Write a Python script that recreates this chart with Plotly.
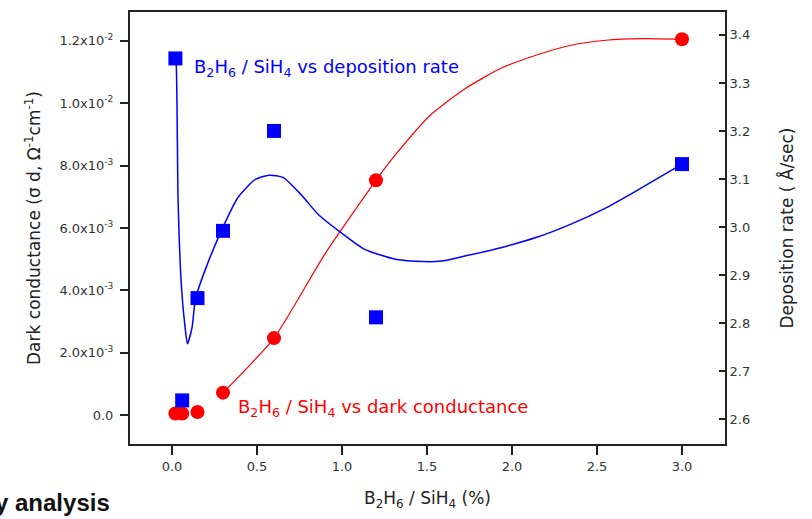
import plotly.graph_objects as go

# B2H6/SiH4 ratio (%)
ratio = [0.02, 0.06, 0.15, 0.3, 0.6, 1.2, 3.0]
# dark conductance (ohm^-1 cm^-1), left axis
dark_cond = [5e-5, 5e-5, 1.0e-4, 7.2e-4, 2.47e-3, 7.53e-3, 1.205e-2]
# deposition rate (A/sec), right axis
dep_rate = [3.351, 2.639, 2.852, 2.992, 3.200, 2.812, 3.131]

# smoothed fit curve of deposition rate
fit_rate_x = [0.019, 0.025, 0.036, 0.056, 0.077, 0.091, 0.118, 0.139, 0.201, 0.290,
              0.387, 0.490, 0.572, 0.655, 0.758, 0.861, 1.006, 1.130, 1.315, 1.481,
              1.584, 1.728, 1.935, 2.141, 2.347, 2.553, 2.759, 3.0]
fit_rate_y = [3.351, 3.337, 3.054, 2.874, 2.791, 2.757, 2.791, 2.852, 2.916, 2.992,
              3.061, 3.099, 3.108, 3.103, 3.068, 3.026, 2.985, 2.954, 2.933, 2.928,
              2.929, 2.940, 2.957, 2.978, 3.006, 3.040, 3.081, 3.131]

# smoothed fit curve of dark conductance
fit_cond_x = [0.3, 0.6, 0.9, 1.2, 1.315, 1.522, 1.728, 1.935, 2.141, 2.347, 2.553, 2.759, 3.0]
fit_cond_y = [7.2e-4, 2.47e-3, 5.17e-3, 7.53e-3, 8.35e-3, 9.63e-3, 1.048e-2, 1.112e-2,
              1.154e-2, 1.186e-2, 1.202e-2, 1.207e-2, 1.205e-2]

left_ticks = [0, 2e-3, 4e-3, 6e-3, 8e-3, 1.0e-2, 1.2e-2]
left_labels = ["0.0", "2.0x10<sup>-3</sup>", "4.0x10<sup>-3</sup>", "6.0x10<sup>-3</sup>",
               "8.0x10<sup>-3</sup>", "1.0x10<sup>-2</sup>", "1.2x10<sup>-2</sup>"]
right_ticks = [2.6, 2.7, 2.8, 2.9, 3.0, 3.1, 3.2, 3.3, 3.4]
x_ticks = [0.0, 0.5, 1.0, 1.5, 2.0, 2.5, 3.0]

BLUE = "#0000ff"
RED = "#ff0000"
FONT = "DejaVu Sans"

fig = go.Figure()

fig.add_trace(go.Scatter(x=fit_rate_x, y=fit_rate_y, mode="lines", yaxis="y2",
                         line=dict(color=BLUE, width=1.5, shape="spline", smoothing=0.6),
                         showlegend=False, hoverinfo="skip"))
fig.add_trace(go.Scatter(x=ratio, y=dep_rate, mode="markers", yaxis="y2",
                         marker=dict(symbol="square", size=14, color=BLUE),
                         showlegend=False))
fig.add_trace(go.Scatter(x=fit_cond_x, y=fit_cond_y, mode="lines", yaxis="y",
                         line=dict(color=RED, width=1.2, shape="spline", smoothing=0.6),
                         showlegend=False, hoverinfo="skip"))
fig.add_trace(go.Scatter(x=ratio, y=dark_cond, mode="markers", yaxis="y",
                         marker=dict(symbol="circle", size=14, color=RED),
                         showlegend=False))

axis_font = dict(family=FONT, size=13, color="#333333")

fig.update_layout(
    width=812, height=519,
    margin=dict(l=130, r=87, t=10, b=75),
    paper_bgcolor="white", plot_bgcolor="white",
    xaxis=dict(range=[-0.247, 3.253], tickvals=x_ticks, ticktext=[f"{v:.1f}" for v in x_ticks],
               showgrid=False, zeroline=False, showline=True, linecolor="#222222", linewidth=2,
               mirror=True, ticks="outside", ticklen=9, tickwidth=1.5, tickcolor="#222222",
               tickfont=axis_font,
               title=dict(text="B<sub>2</sub>H<sub>6</sub> / SiH<sub>4</sub> (%)",
                          font=dict(family=FONT, size=17, color="#222222"), standoff=20)),
    yaxis=dict(range=[-0.926e-3, 12.926e-3], tickvals=left_ticks, ticktext=left_labels,
               showgrid=False, zeroline=False, showline=True, linecolor="#222222", linewidth=2,
               ticks="outside", ticklen=8, tickwidth=1.5, tickcolor="#222222",
               tickfont=axis_font, ticklabelstandoff=4,
               title=dict(text="Dark conductance (σ d, Ω<sup>-1</sup>cm<sup>-1</sup>)",
                          font=dict(family=FONT, size=17, color="#222222"), standoff=14)),
    yaxis2=dict(range=[2.5482, 3.4477], tickvals=right_ticks,
                ticktext=[f"{v:.1f}" for v in right_ticks],
                overlaying="y", side="right",
                showgrid=False, zeroline=False, showline=True, linecolor="#222222", linewidth=2,
                ticks="inside", ticklen=6, tickwidth=1.5, tickcolor="#222222",
                tickfont=axis_font,
                title=dict(text="Deposition rate ( Å/sec)",
                           font=dict(family=FONT, size=17, color="#222222"), standoff=32)),
    annotations=[
        dict(text="B<sub>2</sub>H<sub>6</sub> / SiH<sub>4</sub> vs deposition rate",
             x=0.118, y=3.3316, xref="x", yref="y2", xanchor="left", yanchor="middle",
             showarrow=False, font=dict(family=FONT, size=18, color=BLUE)),
        dict(text="B<sub>2</sub>H<sub>6</sub> / SiH<sub>4</sub> vs dark conductance",
             x=0.376, y=2.623, xref="x", yref="y2", xanchor="left", yanchor="middle",
             showarrow=False, font=dict(family=FONT, size=18, color=RED)),
        dict(text="<b>y analysis</b>", x=-7 / 595 - 130 / 595, y=-(503 - 444) / 434,
             xref="paper", yref="paper", xanchor="left", yanchor="middle",
             showarrow=False, font=dict(family="Liberation Sans", size=24, color="#111111")),
    ],
)

fig.write_html("out.html")
